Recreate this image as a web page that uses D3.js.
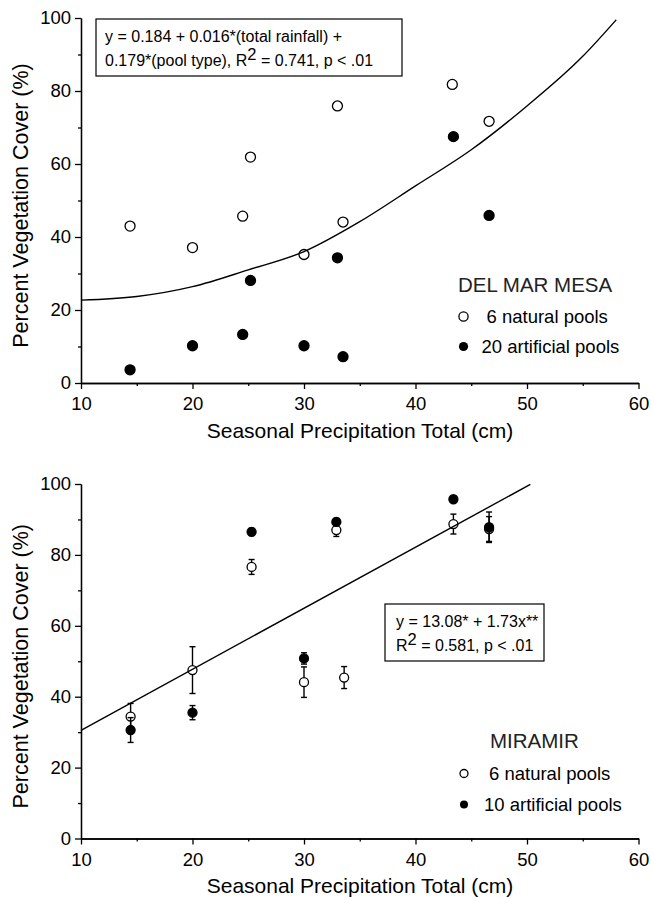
<!DOCTYPE html>
<html>
<head>
<meta charset="utf-8">
<script src="https://cdn.jsdelivr.net/npm/d3@7"></script>
<style>
body { margin: 0; background: #fff; }
svg { display: block; font-family: 'Liberation Sans', Arial, sans-serif; }
.axis path, .axis line { stroke: #000; stroke-width: 1.3; }
.axis text { font-size: 18.5px; fill: #000; font-family: 'Liberation Sans', Arial, sans-serif; }
</style>
</head>
<body>
<svg width="654" height="898"></svg>
<script>
// ---- Del Mar Mesa (top panel)
var dmNaturalX = [14.4, 20.0, 24.5, 25.2, 30.0, 33.0, 33.5, 43.3, 46.6];
var dmNaturalY = [43.0, 37.1, 45.7, 61.9, 35.2, 75.9, 44.1, 81.8, 71.7];
var dmArtificialX = [14.4, 20.0, 24.5, 25.2, 30.0, 33.0, 33.5, 43.4, 46.6];
var dmArtificialY = [3.6, 10.2, 13.3, 28.1, 10.2, 34.3, 7.2, 67.5, 45.9];
var dmFitX = [10, 15, 20, 25, 30, 35, 40, 45, 50, 55, 58];
var dmFitY = [22.7, 23.7, 26.4, 31, 36, 44.2, 54, 63.9, 75.9, 89.5, 99.5];

// ---- Miramir (bottom panel), mean and +/- error
var mirNaturalX = [14.45, 20.0, 25.3, 30.0, 32.9, 33.6, 43.4, 46.6];
var mirNaturalY = [34.4, 47.5, 76.6, 44.1, 87.0, 45.4, 88.7, 87.3];
var mirNaturalErr = [3.7, 6.6, 2.1, 4.3, 1.8, 3.1, 2.8, 3.5];
var mirArtificialX = [14.45, 20.0, 25.3, 30.0, 32.9, 43.4, 46.6];
var mirArtificialY = [30.6, 35.5, 86.5, 50.8, 89.3, 95.7, 87.8];
var mirArtificialErr = [3.5, 2.0, 1.0, 1.6, 1.0, 0.8, 4.3];
var mirFitX = [10, 50.3];
var mirFitY = [30.5, 99.9];

var xMajor = [10, 20, 30, 40, 50, 60];
var xMinor = [15, 25, 35, 45, 55];
var yMajor = [0, 20, 40, 60, 80, 100];
var yMinor = [10, 30, 50, 70, 90];

var svg = d3.select("svg");

function zip(xs, ys, es) {
  return xs.map(function(x, i) { return {x: x, y: ys[i], e: es ? es[i] : 0}; });
}

function panel(opt) {
  var x = d3.scaleLinear().domain([10, 60]).range([81, 638.5]);
  var y = d3.scaleLinear().domain([0, 100]).range([opt.y0, opt.y100]);
  var g = svg.append("g");

  // axes
  g.append("g").attr("class", "axis")
    .attr("transform", "translate(0," + opt.y0 + ")")
    .call(d3.axisBottom(x).tickValues(xMinor).tickSize(3).tickSizeOuter(0).tickFormat(""));
  g.append("g").attr("class", "axis")
    .attr("transform", "translate(0," + opt.y0 + ")")
    .call(d3.axisBottom(x).tickValues(xMajor).tickSize(6).tickSizeOuter(0).tickPadding(8).tickFormat(d3.format("d")));
  g.append("g").attr("class", "axis")
    .attr("transform", "translate(81,0)")
    .call(d3.axisLeft(y).tickValues(yMinor).tickSize(3).tickSizeOuter(0).tickFormat(""));
  g.append("g").attr("class", "axis")
    .attr("transform", "translate(81,0)")
    .call(d3.axisLeft(y).tickValues(yMajor).tickSize(6).tickSizeOuter(0).tickPadding(4).tickFormat(d3.format("d")));

  g.append("text")
    .attr("x", 360).attr("y", opt.y0 + 54.5)
    .attr("text-anchor", "middle").attr("font-size", 21)
    .text("Seasonal Precipitation Total (cm)");
  g.append("text")
    .attr("transform", "translate(28," + ((opt.y0 + opt.y100) / 2 + 5) + ") rotate(-90)")
    .attr("text-anchor", "middle").attr("font-size", 21.5)
    .text("Percent Vegetation Cover (%)");

  // error bars + points
  function errs(data) {
    var eg = g.append("g").attr("stroke", "#000").attr("stroke-width", 1.4);
    data.filter(function(d) { return d.e > 0; }).forEach(function(d) {
      var cx = x(d.x);
      eg.append("line").attr("x1", cx).attr("x2", cx).attr("y1", y(d.y - d.e)).attr("y2", y(d.y + d.e));
      eg.append("line").attr("x1", cx - 3).attr("x2", cx + 3).attr("y1", y(d.y - d.e)).attr("y2", y(d.y - d.e));
      eg.append("line").attr("x1", cx - 3).attr("x2", cx + 3).attr("y1", y(d.y + d.e)).attr("y2", y(d.y + d.e));
    });
  }
  function dots(data, filled) {
    g.append("g").selectAll("circle").data(data).enter().append("circle")
      .attr("cx", function(d) { return x(d.x); })
      .attr("cy", function(d) { return y(d.y); })
      .attr("r", opt.r)
      .attr("fill", filled ? "#000" : "#fff")
      .attr("stroke", "#000").attr("stroke-width", 1.3);
  }
  errs(opt.natural); dots(opt.natural, false);
  errs(opt.artificial); dots(opt.artificial, true);

  // fitted line
  var line = d3.line().x(function(d) { return x(d.x); }).y(function(d) { return y(d.y); })
    .curve(d3.curveMonotoneX);
  g.append("path").datum(opt.fit).attr("d", line)
    .attr("fill", "none").attr("stroke", "#000").attr("stroke-width", 1.4);

  // equation box
  var b = opt.box;
  g.append("rect").attr("x", b.x).attr("y", b.y).attr("width", b.w).attr("height", b.h)
    .attr("fill", "#fff").attr("stroke", "#000").attr("stroke-width", 1.2);
  b.lines.forEach(function(parts, i) {
    var t = g.append("text").attr("x", b.x + b.pad).attr("y", b.y + b.base[i]).attr("font-size", 16);
    var shift = 0;
    parts.forEach(function(p) {
      if (typeof p === "string") {
        t.append("tspan").attr("dy", shift).text(p);
        shift = 0;
      } else {
        t.append("tspan").attr("dy", -6).attr("font-size", 16.5).text(p.sup);
        shift = 6;
      }
    });
  });

  // legend
  var L = opt.legend;
  g.append("text").attr("x", L.x).attr("y", L.titleY).attr("font-size", 20.5).attr("fill", "#222").text(L.title);
  g.append("circle").attr("cx", L.mx).attr("cy", L.row1 - 6).attr("r", L.r)
    .attr("fill", "#fff").attr("stroke", "#000").attr("stroke-width", 1.3);
  g.append("circle").attr("cx", L.mx).attr("cy", L.row2 - 6).attr("r", L.r).attr("fill", "#000");
  g.append("text").attr("x", L.t1).attr("y", L.row1).attr("font-size", 18.5).text(L.label1);
  g.append("text").attr("x", L.t2).attr("y", L.row2).attr("font-size", 18.5).text(L.label2);
}

panel({
  y0: 383, y100: 18, r: 5,
  natural: zip(dmNaturalX, dmNaturalY),
  artificial: zip(dmArtificialX, dmArtificialY),
  fit: zip(dmFitX, dmFitY),
  box: {x: 96, y: 19, w: 306, h: 57, pad: 9, base: [23, 47],
        lines: [["y = 0.184 + 0.016*(total rainfall) +"],
                ["0.179*(pool type), R", {sup: "2"}, " = 0.741, p < .01"]]},
  legend: {x: 458, title: "DEL MAR MESA", titleY: 291.5, mx: 463.5, r: 4.6,
           row1: 322.5, row2: 352.5, t1: 486.5, t2: 481.5,
           label1: "6 natural pools", label2: "20 artificial pools"}
});

panel({
  y0: 838.5, y100: 484, r: 4.5,
  natural: zip(mirNaturalX, mirNaturalY, mirNaturalErr),
  artificial: zip(mirArtificialX, mirArtificialY, mirArtificialErr),
  fit: zip(mirFitX, mirFitY),
  box: {x: 385, y: 604, w: 159, h: 57, pad: 11, base: [23, 47],
        lines: [["y = 13.08* + 1.73x**"],
                ["R", {sup: "2"}, " = 0.581, p < .01"]]},
  legend: {x: 490, title: "MIRAMIR", titleY: 747.5, mx: 464, r: 4,
           row1: 779.5, row2: 810.5, t1: 489, t2: 484,
           label1: "6 natural pools", label2: "10 artificial pools"}
});
</script>
</body>
</html>
